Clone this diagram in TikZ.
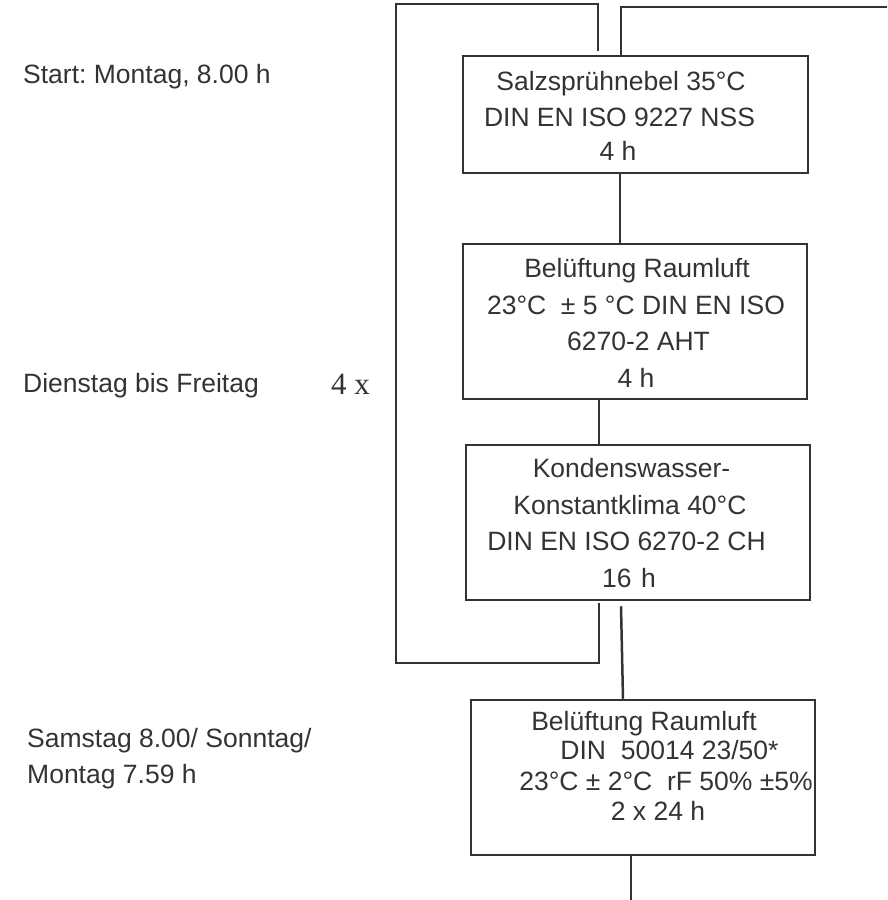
\documentclass[tikz,border=0pt]{standalone}
\usepackage{fontspec}
\setmainfont{Liberation Sans}
\newfontfamily\timesf{Liberation Serif}
\definecolor{ink}{HTML}{333333}
\frenchspacing
\begin{document}
\begin{tikzpicture}[x=1pt,y=-1pt,
  txt/.style={font=\frenchspacing\fontsize{26.5}{35}\selectfont, text=ink, inner sep=0pt, anchor=base},
  lft/.style={txt, anchor=base west},
  box/.style={draw=ink, line width=2.5pt, minimum width=344pt, minimum height=155pt, inner sep=0pt},
  conn/.style={draw=ink, line width=2.5pt}]
\useasboundingbox (0,0) rectangle (887,900);
% boxes
\node[box, minimum width=345pt, minimum height=117pt] (b1) at (635.5,114.5) {};
\node[box] (b2) at (635,321.5) {};
\node[box] (b3) at (638,522.5) {};
\node[box] (b4) at (643,777.5) {};
% box texts
\node[txt] (b1l1) at (621,90.5) {Salzsprühnebel 35°C};
\node[txt] (b1l2) at (619.5,126) {DIN EN ISO 9227 NSS};
\node[txt] (b1l3) at (618,160.5) {4 h};
\node[txt] (b2l1) at (637,277) {Belüftung Raumluft};
\node[txt] (b2l2) at (636,314) {23°C\ \ ± 5 °C DIN EN ISO};
\node[txt] (b2l3) at (638.5,350) {6270-2 AHT};
\node[txt] (b2l4) at (636,387) {4 h};
\node[txt] (b3l1) at (631.5,477) {Kondenswasser-};
\node[txt] (b3l2) at (630,514) {Konstantklima 40°C};
\node[txt] (b3l3) at (626.5,550.5) {DIN EN ISO 6270-2 CH};
\node[txt] (b3l4) at (629,587) {16 \kern2pt h};
\node[txt] (b4l1) at (644,730) {Belüftung Raumluft};
\node[txt] (b4l2) at (669.5,759.5) {DIN\ \ 50014 23/50*};
\node[txt] (b4l3) at (666,790.5) {23°C ± 2°C\ \ rF 50\% ±5\%};
\node[txt] (b4l4) at (658,820) {2 x 24 h};
% left labels
\node[lft] (s1) at (23,83) {Start: Montag, 8.00 h};
\node[lft] (s2) at (23,392) {Dienstag bis Freitag};
\node[txt, anchor=base west, font=\timesf\fontsize{31}{35}\selectfont] (rep) at (331,394) {4 x};
\node[lft] (s3) at (27,747) {Samstag 8.00/ Sonntag/};
\node[lft] (s4) at (27,783) {Montag 7.59 h};
% coordinates
\coordinate (loopBL) at (396,663);
\coordinate (loopTL) at (396,4);
\coordinate (rightEnd) at (887,7);
\coordinate (bottomEnd) at (631,900);
% connectors
\draw[conn] ([xshift=-39pt,yshift=-2pt]b3.south) |- (loopBL) -- (loopTL) -| ([xshift=-37.5pt,yshift=4pt]b1.north);
\draw[conn] ([xshift=-14.5pt]b1.north) |- (rightEnd);
\draw[conn] ([xshift=-15.5pt]b1.south) -- ([xshift=-15pt]b2.north);
\draw[conn] ([xshift=-36pt]b2.south) -- ([xshift=-39pt]b3.north);
\draw[conn] ([xshift=-17pt,yshift=-5pt]b3.south) -- ([xshift=-20pt]b4.north);
\draw[conn] ([xshift=-12pt]b4.south) -- (bottomEnd);
\end{tikzpicture}
\end{document}
